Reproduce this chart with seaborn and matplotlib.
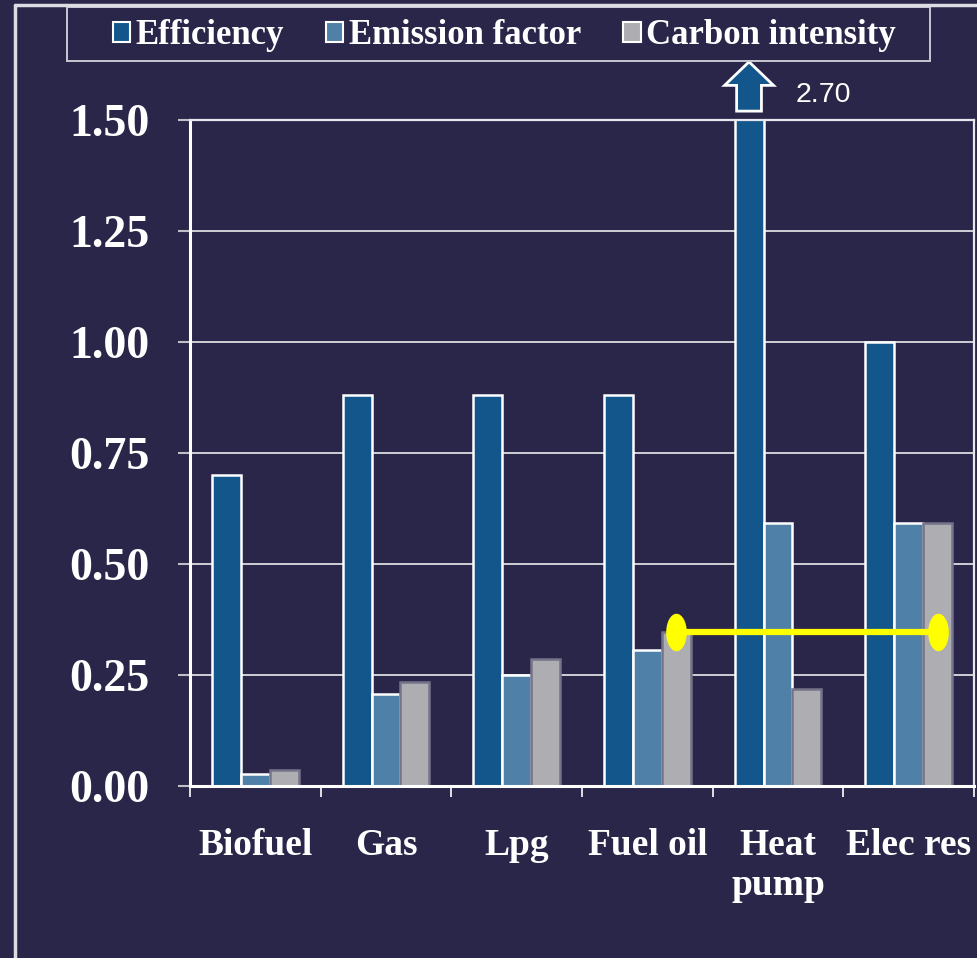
import numpy as np
import pandas as pd
import matplotlib
matplotlib.use("Agg")
import matplotlib.pyplot as plt
from matplotlib.lines import Line2D
from matplotlib.patches import FancyArrow, Rectangle
from matplotlib.path import Path
from matplotlib.transforms import Affine2D
import seaborn as sns

# data
fuels = ['Biofuel', 'Gas', 'Lpg', 'Fuel oil', 'Heat\npump', 'Elec res']
efficiency = [0.70, 0.88, 0.88, 0.88, 2.70, 1.00]
emission_factor = [0.027, 0.207, 0.250, 0.306, 0.592, 0.592]
carbon_intensity = [0.036, 0.234, 0.286, 0.347, 0.218, 0.592]
series = ['Efficiency', 'Emission factor', 'Carbon intensity']
ref_fuel = 'Fuel oil'      # yellow line starts at its carbon intensity
ref_end = 'Elec res'
y_ticks = [0.00, 0.25, 0.50, 0.75, 1.00, 1.25, 1.50]

bg = '#2A2649'
colors = ['#13568B', '#4E80A8', '#AEADB2']
edges = ['white', 'white', '#74738a']

df = pd.DataFrame({
    'fuel': fuels * 3,
    'series': [s for s in series for _ in fuels],
    'value': efficiency + emission_factor + carbon_intensity,
})

sns.set_style('dark')
plt.rcParams['font.family'] = ['Liberation Serif', 'DejaVu Serif']

fig = plt.figure(figsize=(9.77, 9.58), dpi=100, facecolor=bg)
ax = fig.add_axes([190 / 977, 1 - 786 / 958, 784 / 977, 666 / 958])
ax.set_facecolor(bg)

bar_width = 0.665
sns.barplot(data=df, x='fuel', y='value', hue='series', order=fuels,
            hue_order=series, palette=colors, width=bar_width, ax=ax,
            saturation=1, legend=False)
for cont, ec in zip(ax.containers, edges):
    for p in cont:
        p.set_edgecolor(ec)
        p.set_linewidth(1.8)

ax.set_ylim(0, 1.5)
ax.set_xlim(-0.5, len(fuels) - 0.5)
ax.set_yticks(y_ticks)
ax.set_yticklabels([f'{v:.2f}' for v in y_ticks])
ax.grid(axis='y', color='#cfcfd6', lw=1.4)
ax.grid(axis='x', visible=False)
ax.set_axisbelow(True)
ax.set_xlabel('')
ax.set_ylabel('')

ax.set_xticks(range(len(fuels)))
ax.set_xticklabels(fuels)
ax.set_xticks(np.arange(-0.5, len(fuels)), minor=True)
ax.tick_params(axis='x', which='major', length=0, pad=30, labelsize=27,
               labelcolor='white')
ax.tick_params(axis='x', which='minor', length=8, width=1.2, color='white',
               bottom=True)
ax.tick_params(axis='y', length=9, width=1.5, color='#bfbfc8', left=True,
               pad=20, labelsize=33, labelcolor='white')
for lab in ax.get_xticklabels() + ax.get_yticklabels():
    lab.set_fontweight('bold')

for side in ['left', 'bottom']:
    ax.spines[side].set_color('white')
    ax.spines[side].set_linewidth(2.2)
for side in ['top', 'right']:
    ax.spines[side].set_color('#e6e6ee')
    ax.spines[side].set_linewidth(1.6)
    ax.spines[side].set_visible(True)

# yellow reference line between two carbon intensity bars
step = bar_width / len(series)
off = step * (len(series) - 1) / 2
i0, i1 = fuels.index(ref_fuel), fuels.index(ref_end)
yref = carbon_intensity[i0]
ell = Path.unit_circle().transformed(Affine2D().scale(0.55, 1.0))
ax.plot([i0 + off, i1 + off], [yref, yref], color='#FFFF00', lw=4.5,
        marker=ell, markersize=27, markerfacecolor='#FFFF00',
        markeredgewidth=0, clip_on=False, zorder=5)

# arrow for the clipped heat pump bar
hp = fuels.index('Heat\npump')
hx = hp - off
ax.add_patch(FancyArrow(hx, 1.52, 0, 0.111, width=0.19, head_width=0.375,
                        head_length=0.053, length_includes_head=True,
                        facecolor=colors[0], edgecolor='white', lw=2,
                        clip_on=False, zorder=6))
ax.text(hx + 0.36, 1.556, f'{efficiency[hp]:.2f}', color='white',
        fontsize=20.5, family=['Liberation Sans', 'DejaVu Sans'],
        va='center', ha='left')

# legend, with its box drawn separately
handles = [plt.Rectangle((0, 0), 1, 1, facecolor=c, edgecolor='white', lw=1.5)
           for c in colors]
leg = fig.legend(handles, series, loc='center', ncol=3,
                 bbox_to_anchor=(504 / 977, 1 - 36 / 958),
                 frameon=False, handlelength=0.5, handleheight=0.5,
                 handletextpad=0.15, columnspacing=1.22, borderpad=0.0,
                 borderaxespad=0,
                 prop={'family': 'Liberation Serif', 'weight': 'bold',
                       'size': 25})
for t in leg.get_texts():
    t.set_color('white')
fig.add_artist(Rectangle((67 / 977, 1 - 61 / 958), 863 / 977, 54 / 958,
                         facecolor='none', edgecolor='#c8c8d2', lw=1.4))

# outer frame lines
fig.add_artist(Line2D([15 / 977, 15 / 977], [0, 1 - 5 / 958],
                      color='#dcdce2', lw=2.5))
fig.add_artist(Line2D([15 / 977, 1], [1 - 5 / 958, 1 - 5 / 958],
                      color='#dcdce2', lw=2.5))

fig.savefig('out.png', dpi=100, facecolor=bg)
